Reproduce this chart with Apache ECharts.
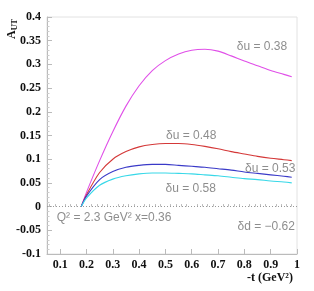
<!DOCTYPE html>
<html><head><meta charset="utf-8">
<script src="https://cdn.jsdelivr.net/npm/echarts@6/dist/echarts.min.js"></script>
<style>html,body{margin:0;padding:0;background:#fff}#c{width:314px;height:291px}</style>
</head><body><div id="c"></div>
<script>
// -t values (GeV^2)
const tValues = [0.18,0.2,0.25,0.3,0.35,0.4,0.45,0.5,0.55,0.6,0.65,0.7,0.75,0.8,0.85,0.9,0.95,0.98];
const du038 = [0,0.03,0.097,0.158,0.212,0.255,0.287,0.308,0.322,0.33,0.332,0.328,0.318,0.307,0.297,0.287,0.279,0.274];
const du048 = [0,0.025,0.072,0.1,0.116,0.126,0.131,0.133,0.133,0.131,0.127,0.122,0.116,0.111,0.106,0.102,0.099,0.097];
const du053 = [0,0.022,0.057,0.074,0.083,0.087,0.089,0.089,0.087,0.085,0.083,0.08,0.077,0.073,0.07,0.067,0.064,0.062];
const du058 = [0,0.018,0.045,0.058,0.065,0.069,0.071,0.071,0.07,0.069,0.067,0.065,0.062,0.059,0.057,0.054,0.052,0.05];
const xTickLabels = [0.1,0.2,0.3,0.4,0.5,0.6,0.7,0.8,0.9,1];
const xMinorTicks = [0.06,0.08,0.12,0.14,0.16,0.18,0.22,0.24,0.26,0.28,0.32,0.34,0.36,0.38,0.42,0.44,0.46,0.48,0.52,0.54,0.56,0.58,0.62,0.64,0.66,0.68,0.72,0.74,0.76,0.78,0.82,0.84,0.86,0.88,0.92,0.94,0.96,0.98];
const annotations = [
  {text:'δu = 0.38', t:0.867, y:0.337},
  {text:'δu = 0.48', t:0.598, y:0.149},
  {text:'δu = 0.53', t:0.898, y:0.081},
  {text:'δu = 0.58', t:0.596, y:0.037},
  {text:'δd = −0.62', t:0.883, y:-0.043},
  {text:'Q² = 2.3 GeV² x=0.36', t:0.305, y:-0.024}
];

const pair = arr => tValues.map((t,i)=>[t,arr[i]]);
const tickFont = {fontFamily:'Liberation Serif', fontWeight:'bold', fontSize:12, color:'#111'};
const chart = echarts.init(document.getElementById('c'), null, {renderer:'canvas'});
const lineS = (name,data,color) => ({name, type:'line', data:pair(data), smooth:0.3, showSymbol:false, lineStyle:{color, width:1.1}, z:3, silent:true});
chart.setOption({
  animation:false,
  grid:{left:47, right:17, top:17, bottom:37, show:true, borderColor:'#e2e2e2', borderWidth:1},
  xAxis:[{
    type:'value', min:0.05, max:1,
    axisLine:{show:true, onZero:false, lineStyle:{color:'#bbb'}},
    axisTick:{show:true, inside:true, length:5, customValues:xTickLabels, lineStyle:{color:'#bbb'}},
    axisLabel:{customValues:xTickLabels, margin:5, ...tickFont, formatter:v=>String(v)},
    splitLine:{show:false}
  },{
    type:'value', min:0.05, max:1, position:'bottom',
    axisLine:{show:false},
    axisTick:{show:true, inside:true, length:2.5, customValues:xMinorTicks, lineStyle:{color:'#bbb'}},
    axisLabel:{show:false}, splitLine:{show:false}
  }],
  yAxis:{
    type:'value', min:-0.1, max:0.4, interval:0.05,
    axisLine:{show:true, lineStyle:{color:'#bbb'}},
    axisTick:{show:true, inside:true, length:5, lineStyle:{color:'#bbb'}},
    minorTick:{show:true, splitNumber:5, length:2.5, lineStyle:{color:'#ccc'}},
    axisLabel:{margin:6, ...tickFont, formatter:v=>String(Math.round(v*100)/100)},
    splitLine:{show:false}
  },
  series:[
    lineS('δu=0.38', du038, '#e050e8'),
    lineS('δu=0.48', du048, '#d43838'),
    lineS('δu=0.53', du053, '#3a3ac8'),
    lineS('δu=0.58', du058, '#38d8e8'),
    {type:'line', data:[], markLine:{silent:true, symbol:'none', label:{show:false},
      lineStyle:{color:'#999', type:[1,2], width:1}, data:[{yAxis:0}]}},
    {type:'scatter', symbolSize:0, silent:true, z:4,
      data:annotations.map(a=>({name:a.text, value:[a.t,a.y]})),
      label:{show:true, position:'inside', formatter:p=>p.name, fontFamily:'Liberation Sans', fontSize:12, color:'#707070'}}
  ],
  graphic:[
    {type:'text', x:12, y:29, rotation:Math.PI/2,
     style:{text:'{a|A}{s|UT}', align:'center', verticalAlign:'middle',
       rich:{a:{fontFamily:'Liberation Serif', fontWeight:'bold', fontSize:12, fill:'#111'},
             s:{fontFamily:'Liberation Serif', fontWeight:'bold', fontSize:8, fill:'#111', padding:[5,0,0,0]}}}},
    {type:'text', x:270, y:278,
     style:{text:'-t (GeV²)', align:'center', verticalAlign:'middle', fontFamily:'Liberation Serif', fontWeight:'bold', fontSize:12, fill:'#111'}}
  ]
});
</script></body></html>
